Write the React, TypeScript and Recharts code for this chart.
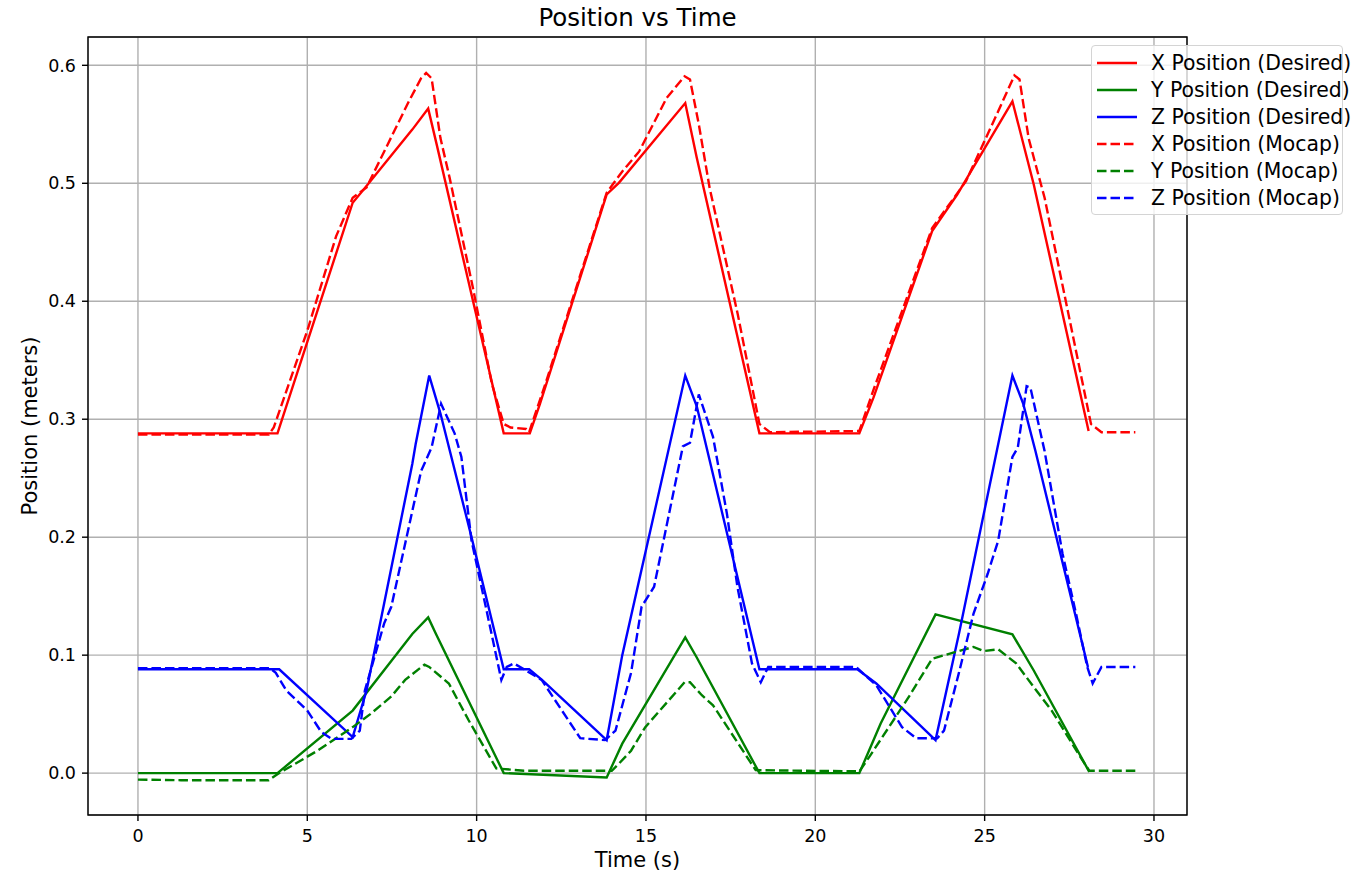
import {
  CartesianGrid,
  Label,
  Legend,
  Line,
  LineChart,
  ReferenceArea,
  XAxis,
  YAxis,
} from "recharts";

const FONT = "'DejaVu Sans', 'Liberation Sans', sans-serif";

// time (s) / position (m) samples
const xDesiredT = [0, 4.12, 6.34, 6.7, 8.1, 8.57, 8.82, 10.8, 11.57, 11.87, 13.84, 14.2, 16.16, 16.5, 18.35, 21.3, 21.72, 23.45, 24.19, 25.82, 26.45, 28.07];
const xDesiredV = [0.288, 0.288, 0.4835, 0.496, 0.5455, 0.5633, 0.533, 0.288, 0.288, 0.313, 0.4905, 0.5004, 0.568, 0.5216, 0.288, 0.288, 0.3185, 0.4595, 0.4905, 0.5695, 0.499, 0.29];

const yDesiredT = [0, 4.12, 6.34, 8.1, 8.57, 8.8, 10.8, 13.84, 14.3, 16.16, 16.5, 18.35, 21.3, 21.93, 23.55, 25.82, 26.45, 28.09];
const yDesiredV = [0, 0, 0.053, 0.118, 0.132, 0.118, 0, -0.0037, 0.025, 0.115, 0.098, 0, 0, 0.042, 0.1345, 0.1176, 0.087, 0.001];

const zDesiredT = [0, 4.17, 6.34, 6.75, 8.1, 8.2, 8.6, 8.93, 9.85, 10.8, 11.55, 11.93, 13.84, 14.3, 16.16, 16.5, 18.35, 21.24, 21.8, 23.55, 24.24, 25.82, 26.14, 26.5, 28.05];
const zDesiredV = [0.088, 0.088, 0.0305, 0.07, 0.262, 0.279, 0.337, 0.305, 0.2, 0.088, 0.088, 0.079, 0.028, 0.1, 0.337, 0.311, 0.088, 0.088, 0.076, 0.028, 0.118, 0.337, 0.313, 0.273, 0.09];

const xMocapT = [0, 3.86, 4.01, 5.0, 5.85, 6.34, 6.75, 8.0, 8.36, 8.51, 8.67, 8.93, 9.2, 9.9, 10.45, 10.8, 11.0, 11.46, 11.55, 12.03, 13.84, 14.3, 14.8, 15.61, 16.14, 16.3, 16.56, 16.88, 17.71, 18.35, 18.66, 21.3, 21.72, 23.45, 24.45, 25.4, 25.88, 26.03, 26.3, 26.56, 26.77, 28.14, 28.45, 29.45];
const xMocapV = [0.287, 0.287, 0.293, 0.375, 0.455, 0.4877, 0.4965, 0.5695, 0.589, 0.5935, 0.589, 0.5385, 0.505, 0.41, 0.33, 0.296, 0.293, 0.2917, 0.289, 0.33, 0.492, 0.51, 0.527, 0.5723, 0.5907, 0.588, 0.55, 0.496, 0.389, 0.296, 0.289, 0.29, 0.325, 0.462, 0.5018, 0.561, 0.5915, 0.588, 0.538, 0.51, 0.4877, 0.296, 0.289, 0.289];

const yMocapT = [0, 1.27, 3.86, 4.17, 5.3, 6.34, 6.86, 7.48, 7.89, 8.46, 8.6, 9.18, 9.76, 10.58, 11.4, 13.99, 14.2, 14.56, 14.98, 16.14, 16.3, 16.65, 16.98, 18.24, 21.3, 21.6, 22.77, 23.45, 24.67, 24.98, 25.4, 25.93, 26.45, 26.98, 27.82, 28.09, 29.45];
const yMocapV = [-0.0055, -0.006, -0.006, 0, 0.019, 0.039, 0.05, 0.065, 0.079, 0.092, 0.09, 0.076, 0.045, 0.004, 0.002, 0.002, 0.008, 0.019, 0.039, 0.077, 0.077, 0.066, 0.0575, 0.0025, 0.0015, 0.014, 0.065, 0.097, 0.107, 0.1035, 0.105, 0.093, 0.073, 0.053, 0.014, 0.002, 0.002];

const zMocapT = [0, 3.9, 4.07, 4.38, 5.0, 5.41, 5.72, 6.3, 6.55, 6.7, 7.27, 7.48, 8.36, 8.67, 8.95, 9.35, 9.55, 9.85, 10.27, 10.73, 10.89, 11.1, 11.4, 11.92, 13.06, 13.79, 14.1, 14.56, 14.87, 15.24, 16.09, 16.3, 16.56, 16.98, 17.39, 17.7, 18.13, 18.39, 18.61, 21.2, 21.8, 22.56, 22.98, 23.6, 23.8, 24.24, 24.67, 25.09, 25.4, 25.82, 25.98, 26.24, 26.35, 26.77, 27.3, 27.7, 28.03, 28.19, 28.45, 29.45];
const zMocapV = [0.089, 0.089, 0.085, 0.07, 0.053, 0.035, 0.029, 0.029, 0.036, 0.07, 0.127, 0.141, 0.256, 0.276, 0.313, 0.288, 0.268, 0.197, 0.141, 0.079, 0.09, 0.093, 0.088, 0.079, 0.0296, 0.028, 0.036, 0.085, 0.141, 0.158, 0.277, 0.28, 0.321, 0.285, 0.22, 0.158, 0.093, 0.077, 0.09, 0.09, 0.0745, 0.039, 0.0296, 0.0296, 0.036, 0.085, 0.135, 0.169, 0.197, 0.268, 0.276, 0.328, 0.327, 0.273, 0.186, 0.135, 0.09, 0.076, 0.09, 0.09];

const xTicks = [0, 5, 10, 15, 20, 25, 30];
const yTicks = [0, 0.1, 0.2, 0.3, 0.4, 0.5, 0.6];
const X_DOMAIN: [number, number] = [-1.475, 30.975];
const Y_DOMAIN: [number, number] = [-0.0355, 0.624];

const zip = (t: number[], v: number[]) => t.map((x, i) => ({ t: x, v: v[i] }));

const SERIES = [
  { name: "X Position (Desired)", color: "#ff0000", dashed: false, data: zip(xDesiredT, xDesiredV) },
  { name: "Y Position (Desired)", color: "#008000", dashed: false, data: zip(yDesiredT, yDesiredV) },
  { name: "Z Position (Desired)", color: "#0000ff", dashed: false, data: zip(zDesiredT, zDesiredV) },
  { name: "X Position (Mocap)", color: "#ff0000", dashed: true, data: zip(xMocapT, xMocapV) },
  { name: "Y Position (Mocap)", color: "#008000", dashed: true, data: zip(yMocapT, yMocapV) },
  { name: "Z Position (Mocap)", color: "#0000ff", dashed: true, data: zip(zMocapT, zMocapV) },
];

const DASH = "9.5 4";

function LegendBox() {
  return (
    <div
      style={{
        position: "relative",
        width: 252,
        height: 170,
        boxSizing: "border-box",
        border: "1px solid #d4d4d4",
        borderRadius: 4,
        background: "rgba(255,255,255,0.8)",
        fontFamily: FONT,
        fontSize: 20.4,
        color: "#000",
      }}
    >
      {SERIES.map((s, i) => (
        <div
          key={s.name}
          style={{ position: "absolute", left: 5, top: 17 + i * 27 - 12, height: 24, display: "flex", alignItems: "center" }}
        >
          <svg width={40} height={6} style={{ display: "block" }}>
            <line x1={0} y1={3} x2={40} y2={3} stroke={s.color} strokeWidth={2.4} strokeDasharray={s.dashed ? DASH : undefined} />
          </svg>
          <span style={{ marginLeft: 14, whiteSpace: "nowrap", lineHeight: "24px" }}>{s.name}</span>
        </div>
      ))}
    </div>
  );
}

export default function App() {
  return (
    <div style={{ position: "absolute", left: 0, top: 0, width: 1357, height: 874, background: "#fff" }}>
      <div
        style={{
          position: "absolute",
          left: 88,
          width: 1099,
          top: 6,
          textAlign: "center",
          fontFamily: FONT,
          fontSize: 24.5,
          lineHeight: 1,
          color: "#000",
        }}
      >
        Position vs Time
      </div>
      <LineChart width={1357} height={874} margin={{ top: 37, right: 170, bottom: 0, left: 0 }}>
        <CartesianGrid stroke="#b0b0b0" strokeWidth={1.4} />
        <XAxis
          type="number"
          dataKey="t"
          domain={X_DOMAIN}
          ticks={xTicks}
          allowDataOverflow
          height={59}
          axisLine={false}
          tickSize={6}
          tickMargin={8.5}
          tickLine={{ stroke: "#000", strokeWidth: 1.4 }}
          tick={{ fill: "#000", fontSize: 17.5, fontFamily: FONT }}
        >
          <Label
            content={({ viewBox }: any) => (
              <text
                x={viewBox.x + viewBox.width / 2}
                y={viewBox.y + 52}
                textAnchor="middle"
                fontFamily={FONT}
                fontSize={21}
                fill="#000"
              >
                Time (s)
              </text>
            )}
          />
        </XAxis>
        <YAxis
          type="number"
          domain={Y_DOMAIN}
          ticks={yTicks}
          allowDataOverflow
          width={88}
          axisLine={false}
          tickSize={6}
          tickMargin={6}
          tickLine={{ stroke: "#000", strokeWidth: 1.4 }}
          tick={{ fill: "#000", fontSize: 17.5, fontFamily: FONT }}
          tickFormatter={(v: number) => v.toFixed(1)}
        >
          <Label
            content={({ viewBox }: any) => {
              const cx = 37;
              const cy = viewBox.y + viewBox.height / 2;
              return (
                <text
                  x={cx}
                  y={cy}
                  textAnchor="middle"
                  transform={`rotate(-90, ${cx}, ${cy})`}
                  fontFamily={FONT}
                  fontSize={21}
                  fill="#000"
                >
                  Position (meters)
                </text>
              );
            }}
          />
        </YAxis>
        {SERIES.map((s) => (
          <Line
            key={s.name}
            name={s.name}
            data={s.data}
            dataKey="v"
            type="linear"
            stroke={s.color}
            strokeWidth={2.4}
            strokeDasharray={s.dashed ? DASH : undefined}
            dot={false}
            activeDot={false}
            isAnimationActive={false}
          />
        ))}
        <ReferenceArea
          x1={X_DOMAIN[0]}
          x2={X_DOMAIN[1]}
          y1={Y_DOMAIN[0]}
          y2={Y_DOMAIN[1]}
          fill="none"
          stroke="#000"
          strokeWidth={1.4}
          ifOverflow="visible"
        />
        <Legend
          layout="vertical"
          align="center"
          verticalAlign="middle"
          wrapperStyle={{ left: 1091, top: 45, width: 252, height: 170 }}
          content={() => <LegendBox />}
        />
      </LineChart>
    </div>
  );
}
